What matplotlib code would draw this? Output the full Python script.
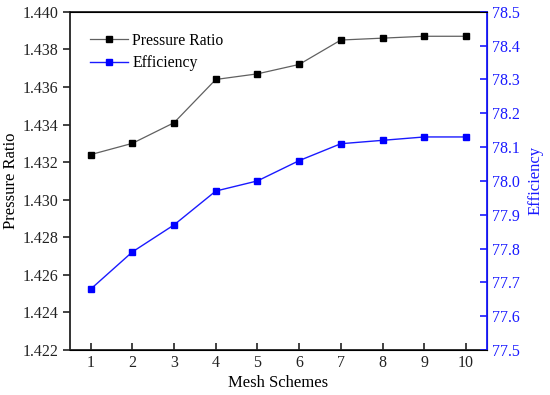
import matplotlib
matplotlib.use("Agg")
import matplotlib.pyplot as plt

mesh = [1, 2, 3, 4, 5, 6, 7, 8, 9, 10]
pressure_ratio = [1.4324, 1.4330, 1.4341, 1.4364, 1.4367, 1.4372, 1.4385, 1.4386, 1.4387, 1.4387]
efficiency = [77.68, 77.79, 77.87, 77.97, 78.00, 78.06, 78.11, 78.12, 78.13, 78.13]
left_ticks = [1.422, 1.424, 1.426, 1.428, 1.430, 1.432, 1.434, 1.436, 1.438, 1.440]
right_ticks = [77.5, 77.6, 77.7, 77.8, 77.9, 78.0, 78.1, 78.2, 78.3, 78.4, 78.5]

plt.rcParams['font.family'] = ['Liberation Serif', 'DejaVu Serif']
plt.rcParams['font.size'] = 11

blue = '#1a1aff'
fig = plt.figure(figsize=(5.5, 3.95), dpi=100)
ax = fig.add_axes([0.127, 0.114, 0.758, 0.856])
ax2 = ax.twinx()

l1, = ax.plot(mesh, pressure_ratio, color='#606060', lw=0.9, marker='s', ms=4.8,
              mfc='black', mec='black', label='Pressure Ratio')
l2, = ax2.plot(mesh, efficiency, color=blue, lw=1.0, marker='s', ms=4.8,
               mfc='blue', mec='blue', label='Efficiency')

ax.set_xlim(0.5, 10.5)
ax.set_ylim(1.422, 1.440)
ax.set_yticks(left_ticks)
ax.set_yticklabels([f"{v:.3f}" for v in left_ticks])
ax.set_xticks(mesh)
ax2.set_ylim(77.5, 78.5)
ax2.set_yticks(right_ticks)
ax2.set_yticklabels([f"{v:.1f}" for v in right_ticks])

ax.tick_params(axis='y', direction='out', length=5, width=1.2, colors='#222222', labelsize=11.5)
ax.tick_params(axis='x', direction='in', length=5, width=1.2, colors='#222222', top=False, labelsize=11.5)
ax2.tick_params(axis='y', direction='in', length=5, width=1.2, colors=blue, labelsize=11.5)
for s in ['left', 'bottom', 'top']:
    ax.spines[s].set_linewidth(1.3)
    ax.spines[s].set_color('#222222')
ax2.spines['right'].set_color(blue)
ax2.spines['right'].set_linewidth(1.3)
ax2.spines['left'].set_visible(False)

ax.set_xlabel('Mesh Schemes', fontsize=12)
ax.set_ylabel('Pressure Ratio', fontsize=12)
ax2.set_ylabel('Efficiency', fontsize=12, color=blue)
ax.xaxis.set_label_coords(0.5, -0.074)
ax.yaxis.set_label_coords(-0.122, 0.5)
ax2.yaxis.set_label_coords(1.098, 0.5)

ax.legend(handles=[l1, l2], loc='upper left', frameon=False, fontsize=11.3,
          bbox_to_anchor=(0.048, 0.938), borderaxespad=0, borderpad=0,
          handlelength=2.4, handletextpad=0.3, labelspacing=0.4)

fig.savefig('out.png', dpi=100)
